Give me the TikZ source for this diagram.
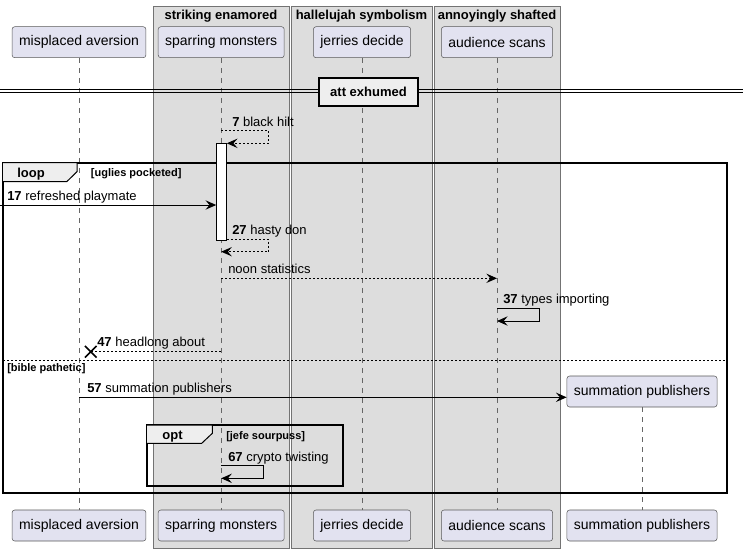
\documentclass[tikz,border=0pt]{standalone}
\usepackage{fontspec}
\setmainfont{Liberation Sans}
\usepackage{tikz}
\usetikzlibrary{arrows.meta, positioning, shapes.misc}

\definecolor{actorfill}{HTML}{E2E2F0}
\definecolor{groupfill}{HTML}{DDDDDD}
\definecolor{tabfill}{HTML}{EEEEEE}

\tikzset{
    actor/.style={draw=black!65, fill=actorfill, rounded corners=2pt, minimum height=23.25pt,
        inner xsep=5.25pt, inner ysep=0pt, font=\fontsize{10.5}{12}\selectfont},
    lifeline/.style={draw=black!60, dash pattern=on 3.75pt off 3.75pt, line width=0.6pt},
    msg/.style={-{Stealth[length=8pt, width=7pt, inset=3pt]}, line width=0.75pt},
    reply/.style={msg, dash pattern=on 1.5pt off 1.5pt},
    lbl/.style={anchor=base west, inner sep=0pt, font=\fontsize{9.75}{11}\selectfont},
    cond/.style={anchor=base west, inner sep=0pt, font=\fontsize{8.25}{10}\selectfont\bfseries},
    tabtext/.style={anchor=base, inner sep=0pt, font=\fontsize{9.75}{11}\selectfont\bfseries},
    frame/.style={draw, line width=1.5pt},
}

\begin{document}
\begin{tikzpicture}[x=0.75pt, y=-0.75pt]
    \useasboundingbox (0,0) rectangle (743,551);

    % Boxes around participants
    \foreach \l/\r/\name in {153/289/striking enamored, 291/432/hallelujah symbolism, 434/560/annoyingly shafted} {
        \draw[black!55, fill=groupfill] (\l,6) rectangle (\r,548);
        \node[tabtext] (g\l) at ({(\l+\r)/2}, 19) {\name};
    }

    % Participants and lifelines
    \foreach \id/\x/\name in {mis/79/misplaced aversion, spar/221.2/sparring monsters,
                              jer/362/jerries decide, aud/497/audience scans} {
        \node[actor] (\id T) at (\x, 42.2) {\name};
        \node[actor] (\id B) at (\x, 525.5) {\name};
        \draw[lifeline] (\id T) -- (\id B);
    }
    \node[actor] (pubT) at (642, 391.5) {summation publishers};
    \node[actor] (pubB) at (642, 525.5) {summation publishers};
    \draw[lifeline] (pubT) -- (pubB);

    % Divider
    \draw[line width=0.75pt] (0,89.3) -- (743,89.3) (0,92.3) -- (743,92.3);
    \node[draw, line width=1.5pt, fill=tabfill, minimum width=73.8pt, minimum height=20.8pt,
        inner sep=0pt, font=\fontsize{9.75}{11}\selectfont\bfseries] (att) at (368.5,92.2) {att exhumed};

    % Loop frame with else part
    \draw[frame] (3,162.7) rectangle (727.3,493.3);
    \draw[fill=tabfill, line width=0.75pt] (3,162.7) -- (77,162.7) -- (77,171.7) -- (66.7,181.7) -- (3,181.7);
    \node[tabtext] (loop) at (31,177) {loop};
    \node[cond] (c1) at (90.7,176) {[uglies pocketed]};
    \draw[line width=0.75pt, dash pattern=on 1.5pt off 1.5pt] (3,360.7) -- (727.3,360.7);
    \node[cond] (c2) at (7,371) {[bible pathetic]};

    % Opt frame
    \draw[frame] (147,425) rectangle (342.7,485.7);
    \draw[fill=tabfill, line width=0.75pt] (147,425) -- (212.3,425) -- (212.3,433.3) -- (201.7,443.3) -- (147,443.3);
    \node[tabtext] (opt) at (172.5,439) {opt};
    \node[cond] (c3) at (226,439) {[jefe sourpuss]};

    % Activation
    \node[draw, fill=white, line width=0.75pt, minimum width=7.2pt, minimum height=72.75pt,
        inner sep=0pt] (act) at (221.5,191.8) {};

    % Messages
    \draw[reply] (sparT |- 0,130) -- ++(47,0) |- (act.east |- 0,143.3);
    \node[lbl] (m7) at (232,126) {\textbf{7} black hilt};

    \coordinate (outside) at (0,205);
    \draw[msg] (outside) -- (act.west |- outside);
    \node[lbl] (m17) at (7,200) {\textbf{17} refreshed playmate};

    \draw[reply] (act.east |- 0,239.3) -- ++(41.7,0) |- (sparT |- 0,251.7);
    \node[lbl] (m27) at (232,234.5) {\textbf{27} hasty don};

    \draw[reply] (sparT |- 0,278.3) -- (audT |- 0,278.3);
    \node[lbl] (noon) at (228,273) {noon statistics};

    \draw[msg] (audT |- 0,308.3) -- ++(42.6,0) |- (audT |- 0,321);
    \node[lbl] (m37) at (503,303.5) {\textbf{37} types importing};

    \node[draw, cross out, line width=1.2pt, minimum size=7.5pt, inner sep=0pt] (kill) at (90.7,351.7) {};
    \draw[line width=0.75pt, dash pattern=on 1.5pt off 1.5pt] (sparT |- kill) -- (kill.center);
    \node[lbl] (m47) at (97,346.5) {\textbf{47} headlong about};

    \draw[msg] (misT |- 0,397.3) -- (pubT.west |- 0,397.3);
    \node[lbl] (m57) at (87,392.5) {\textbf{57} summation publishers};

    \draw[msg] (sparT |- 0,465.7) -- ++(42.3,0) |- (sparT |- 0,478.3);
    \node[lbl] (m67) at (228,461) {\textbf{67} crypto twisting};
\end{tikzpicture}
\end{document}
